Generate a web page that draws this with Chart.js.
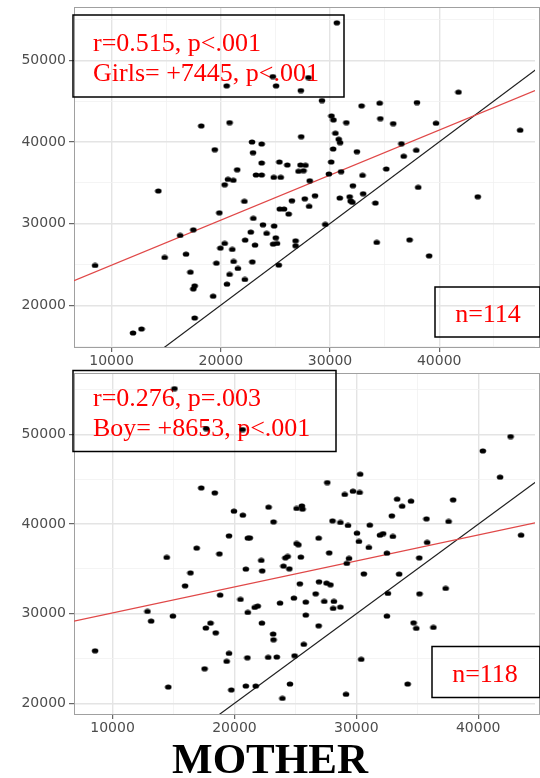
<!DOCTYPE html>
<html>
<head>
<meta charset="utf-8">
<script src="https://cdn.jsdelivr.net/npm/chart.js@4/dist/chart.umd.min.js"></script>
<style>
  body { margin: 0; background: #fff; width: 540px; height: 778px; overflow: hidden; position: relative; }
  canvas { position: absolute; left: 0; }
  #girlsChart { top: 0; }
  #boysChart { top: 365px; }
  #xTitle { position: absolute; left: 0; width: 540px; top: 737px; text-align: center;
            font: bold 43px "Liberation Serif", serif; line-height: 43px; color: #000; }
</style>
</head>
<body>
<canvas id="girlsChart" width="540" height="368"></canvas>
<canvas id="boysChart" width="540" height="380"></canvas>
<div id="xTitle">MOTHER</div>
<script>
// Scatter of mother vs child income, girls (top) and boys (bottom)

// --- data ---
const girlsMother = [
  18215, 20808, 19450, 20660, 21150, 20355, 14285, 19870, 17490, 16280,
  20355, 19965, 16820, 14860, 8490, 19600, 17220, 20808, 17610, 17490,
  20565, 19300, 17610, 11965, 12745,
  30625, 20535, 25065, 24765, 28025, 27330, 29265, 30135, 30315, 31495,
  32890, 34545, 34610, 27365, 30495, 30800, 30925, 30290, 22860, 23740,
  22950, 32465, 23740, 25370, 26095, 27300, 27755, 27120, 27575, 30110,
  31015, 29900, 21505, 23225, 23740, 24855, 25490, 28145, 22165, 26510,
  27690, 28630, 28090, 25400, 25790, 26215, 30895, 31800, 31890, 32050,
  32100, 33035, 32980, 34160, 34275, 29565, 22980, 23860, 24885, 22745,
  24195, 25035, 22230, 23135, 24795, 25150, 26850, 26850, 21050, 21170,
  21565, 22200, 22890, 25310,
  41765, 37960, 35790, 39710, 47410, 36540, 37900, 36750, 35155, 38080,
  43530, 37290, 39080
];
const girlsChild = [
  41963, 42370, 39055, 35420, 35300, 34760, 33990, 31325, 29240, 28550,
  27570, 26995, 26255, 25850, 24870, 25150, 24050, 23770, 22370, 22000,
  22575, 21100, 18440, 16600, 17090,
  54600, 46870, 46870, 48010, 47890, 46295, 45070, 43190, 42700, 42370,
  44420, 44750, 42860, 40650, 41065, 40330, 39915, 39140, 40000, 39755,
  38690, 38810, 37420, 37545, 37180, 37180, 37140, 36405, 36480, 37545,
  36360, 36075, 36600, 35950, 35950, 35665, 35665, 35250, 32725, 32800,
  33040, 33410, 32110, 31780, 31780, 31165, 33130, 33290, 32760, 32600,
  34640, 33660, 35910, 32515, 27690, 29900, 30640, 29855, 29695, 28955,
  28800, 28260, 27975, 27360, 27485, 27560, 27890, 27280, 26835, 25360,
  24500, 23150, 25310, 24910,
  46100, 44830, 42250, 42290, 41435, 39790, 38980, 38245, 36685, 34440,
  33290, 28010, 26050
];

const boysMother = [
  17280, 18385, 19555, 16900, 18765, 14440, 16390, 15950, 18825, 12865,
  13165, 14950, 18035, 17655, 18465, 8565, 19555, 19360, 17550, 14570,
  19745,
  15080, 17680, 20675,
  30315, 27615, 29050, 29725, 30270, 19960, 20690, 22800, 23205, 25100,
  25530, 25585, 21260, 21100, 25100, 25250, 26910, 28045, 28695, 29320,
  30050, 30210, 31105, 31025, 31940, 30615, 27775, 29400, 29215, 22200,
  22280, 20935, 24180, 24365, 24020, 24505, 25445, 25365, 26940, 27555,
  27880, 26665, 24880, 25855, 27370, 28160, 28100, 28695, 25855, 26910,
  23740, 20495, 21095, 21665, 21910, 22255, 23175, 23205, 25690, 24935,
  22770, 23475, 21065, 20935, 21745, 24555, 23935, 29155, 30400,
  42655, 40380, 41795, 33350, 34490, 37945, 33760, 32915, 35755, 37570,
  32200, 32995, 43520, 35810, 32510, 35165, 33515, 32590, 35185, 37330,
  32510, 34700, 34920, 36325, 34210
];
const boysChild = [
  44055, 43500, 38700, 37330, 36690, 36290, 34570, 33120, 32085, 30265,
  29185, 29740, 28960, 28405, 27880, 25870, 25580, 24690, 23865, 21820,
  21500,
  55140, 50680, 50570,
  45580, 44655, 43320, 43685, 43540, 41455, 41010, 41900, 40260, 41755,
  42045, 41680, 38475, 38450, 37850, 37700, 38445, 40375, 40195, 39860,
  39000, 38075, 39895, 37405, 38780, 34460, 36805, 36180, 35620, 35955,
  34795, 34985, 36245, 36400, 35320, 35020, 36325, 33345, 33570, 33425,
  33235, 32230, 31750, 31305, 31380, 31380, 30600, 30745, 29855, 28660,
  31190, 31605, 30155, 30710, 30855, 28960, 27735, 27100, 26585, 25315,
  25135, 25170, 25090, 21935, 21935, 22155, 20560, 21010, 24910,
  49790, 48180, 45250, 42795, 42570, 42720, 42010, 40930, 40595, 40305,
  38950, 38630, 38780, 37965, 36770, 36245, 34430, 32275, 32230, 32830,
  29740, 28995, 28370, 28480, 22155
];

// regression lines (end points across the panel) and the y = x line
const girlsFitX = [6560, 48770];
const girlsFitY = [22997, 46297];
const boysFitX = [6835, 44660];
const boysFitY = [29170, 40150];
const identityLine = [0, 60000];

// axis ranges, labelled (major) ticks and unlabelled minor grid values
const girlsXRange = [6560, 48770];
const girlsYRange = [14880, 56530];
const boysXRange = [6835, 44660];
const boysYRange = [18810, 56880];
const majorTicks = [10000, 20000, 30000, 40000, 50000];
const minorTicks = [5000, 15000, 25000, 35000, 45000, 55000];

const girlsStats = ['r=0.515, p<.001', 'Girls= +7445, p<.001', 'n=114'];
const boysStats = ['r=0.276, p=.003', 'Boy= +8653, p<.001', 'n=118'];

const FIT_RED = '#e04848';
const TEXT_RED = '#ff0000';
const TICK_FONT = { family: 'DejaVu Sans', size: 14 };

// small oval dot like the stretched ggplot points
function makeDot() {
  const c = document.createElement('canvas');
  c.width = 8; c.height = 6;
  const g = c.getContext('2d');
  g.fillStyle = '#000';
  g.beginPath();
  g.ellipse(4, 3, 3.3, 2.55, 0, 0, Math.PI * 2);
  g.fill();
  return c;
}
const dot = makeDot();

const isMajor = ctx => ctx.tick && majorTicks.includes(ctx.tick.value);

// put the grid/ticks exactly on the 5000 steps inside the range
function setTicks(scale) {
  const vals = majorTicks.concat(minorTicks)
    .filter(v => v >= scale.min && v <= scale.max)
    .sort((a, b) => a - b);
  scale.ticks = vals.map(v => ({ value: v }));
}

// frame + stat boxes, drawn under the points
const overlay = {
  id: 'overlay',
  beforeDatasetsDraw(chart, args, opts) {
    const ctx = chart.ctx;
    const a = chart.chartArea;
    ctx.save();
    ctx.strokeStyle = '#a0a0a0';
    ctx.lineWidth = 1;
    ctx.strokeRect(Math.round(a.left) + 0.5, Math.round(a.top) + 0.5, a.right - a.left + 4, a.bottom - a.top);

    ctx.strokeStyle = '#000';
    ctx.lineWidth = 1.5;
    opts.boxes.forEach(b => ctx.strokeRect(b[0], b[1], b[2], b[3]));

    ctx.fillStyle = TEXT_RED;
    ctx.font = '26px "Liberation Serif"';
    ctx.textBaseline = 'alphabetic';
    opts.texts.forEach(t => {
      ctx.textAlign = t.align;
      ctx.fillText(t.text, t.x, t.y);
    });
    ctx.restore();
  }
};

function axisOptions(range, fitSize) {
  return {
    type: 'linear',
    min: range[0],
    max: range[1],
    afterBuildTicks: setTicks,
    afterFit: fitSize,
    border: { display: false },
    grid: {
      color: c => isMajor(c) ? '#e4e4e4' : '#f1f1f1',
      lineWidth: c => isMajor(c) ? 1.4 : 0.8,
      tickColor: c => isMajor(c) ? '#444' : 'rgba(0,0,0,0)',
      tickLength: 5,
      tickWidth: 1
    },
    ticks: {
      autoSkip: false,
      maxRotation: 0,
      color: '#4d4d4d',
      font: TICK_FONT,
      callback: v => majorTicks.includes(v) ? String(v) : ''
    }
  };
}

function buildPanel(canvasId, cfg) {
  const points = cfg.mother.map((m, i) => ({ x: m, y: cfg.child[i] }));
  const fit = cfg.fitX.map((x, i) => ({ x: x, y: cfg.fitY[i] }));
  const identity = identityLine.map(v => ({ x: v, y: v }));

  const x = axisOptions(cfg.xRange, s => { s.height = cfg.xAxisHeight; s.paddingLeft = 0; s.paddingRight = 0; });
  x.ticks.padding = 1;
  const y = axisOptions(cfg.yRange, s => { s.width = 74; s.paddingTop = 0; s.paddingBottom = 0; });
  y.ticks.padding = 3;

  return new Chart(document.getElementById(canvasId), {
    type: 'scatter',
    data: {
      datasets: [
        { data: points, pointStyle: dot, pointRadius: 3, order: 0 },
        { data: fit, showLine: true, borderColor: FIT_RED, borderWidth: 1.2, pointRadius: 0, order: 1 },
        { data: identity, showLine: true, borderColor: '#202020', borderWidth: 1.2, pointRadius: 0, order: 2 }
      ]
    },
    options: {
      responsive: false,
      animation: false,
      events: [],
      layout: { padding: { top: cfg.padTop, left: 0, right: 0, bottom: 0 } },
      scales: { x: x, y: y },
      plugins: {
        legend: { display: false },
        tooltip: { enabled: false },
        overlay: { boxes: cfg.boxes, texts: cfg.texts }
      }
    },
    plugins: [overlay]
  });
}

buildPanel('girlsChart', {
  mother: girlsMother, child: girlsChild,
  fitX: girlsFitX, fitY: girlsFitY,
  xRange: girlsXRange, yRange: girlsYRange,
  padTop: 7, xAxisHeight: 21,
  boxes: [[73, 15, 271, 82], [435, 287, 105, 50]],
  texts: [
    { text: girlsStats[0], x: 93, y: 50.5, align: 'left' },
    { text: girlsStats[1], x: 93, y: 81, align: 'left' },
    { text: girlsStats[2], x: 488, y: 322, align: 'center' }
  ]
});

buildPanel('boysChart', {
  mother: boysMother, child: boysChild,
  fitX: boysFitX, fitY: boysFitY,
  xRange: boysXRange, yRange: boysYRange,
  padTop: 8, xAxisHeight: 31,
  boxes: [[73, 5.5, 263, 81], [432, 281.5, 108, 51]],
  texts: [
    { text: boysStats[0], x: 93, y: 40.5, align: 'left' },
    { text: boysStats[1], x: 93, y: 71, align: 'left' },
    { text: boysStats[2], x: 485, y: 317, align: 'center' }
  ]
});
</script>
</body>
</html>
